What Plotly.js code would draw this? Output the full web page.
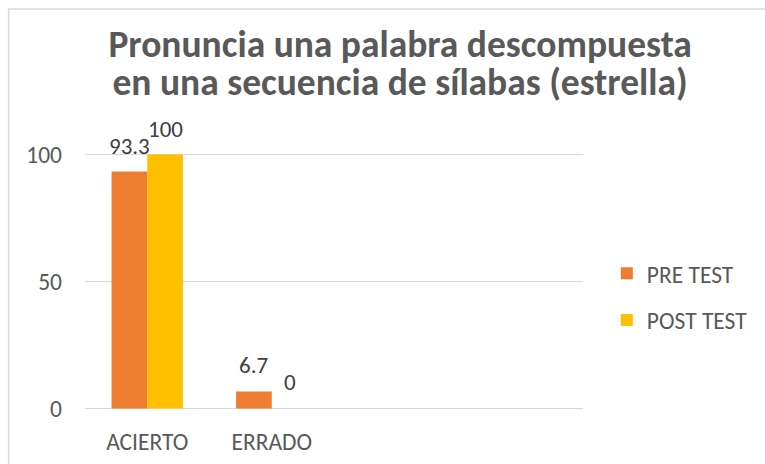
<!DOCTYPE html>
<html>
<head>
<meta charset="utf-8">
<script src="https://cdn.plot.ly/plotly-3.0.1.min.js"></script>
<style>html,body{margin:0;padding:0;background:#fff;}#chart{width:765px;height:464px;}</style>
</head>
<body>
<div id="chart"></div>
<script>
const categories = ["ACIERTO", "ERRADO", " ", "  "];
const preTest = [93.3, 6.7, null, null];
const postTest = [100, 0, null, null];
const seriesNames = ["PRE TEST", "POST TEST"];
const seriesColors = ["#ED7D31", "#FFC000"];
const yTicks = [0, 50, 100];

const FONT = "Carlito, 'Open Sans', sans-serif";
const W = 765, H = 464;
// y = 0 at 408px, y = 100 at 155px; pad range slightly so edge gridlines show
const pxPerUnit = (408 - 155) / 100, pad = 0.6;
const L = 85, R = 178, T = 155 - pad * pxPerUnit, B = (H - 408) - pad * pxPerUnit;
const pw = W - L - R, ph = H - T - B;
const px2paperY = py => (H - B - py) / ph;

const traces = [preTest, postTest].map((vals, i) => ({
  type: 'bar', x: categories, y: vals, name: seriesNames[i], legendgroup: 'g' + i,
  marker: {color: seriesColors[i]}, hoverinfo: 'none'
}));

const annotations = [];
[preTest, postTest].forEach((vals, i) => {
  vals.forEach((v, j) => {
    if (v === null) return;
    annotations.push({
      x: categories[j], y: v, xref: 'x', yref: 'y', text: String(v),
      showarrow: false, yanchor: 'bottom', yshift: 10, xshift: i === 0 ? -18 : 18,
      font: {family: FONT, size: 23, color: '#404040'}
    });
  });
});

const layout = {
  width: W, height: H,
  margin: {l: L, r: R, t: T, b: B},
  paper_bgcolor: '#fff', plot_bgcolor: '#fff',
  title: {text: '<span style="font-size:37.5px">Pronuncia una palabra descompuesta<br>en una secuencia de sílabas (estrella)</span>',
    font: {family: FONT, size: 29.5, color: '#595959', weight: 'bold'},
    x: 0.523, xanchor: 'center', yref: 'container', y: 1 - 57 / H, yanchor: 'middle'},
  barmode: 'group', bargap: 0.427, bargroupgap: 0,
  showlegend: true,
  legend: {x: (611 - L) / pw, xanchor: 'left', y: px2paperY(297), yanchor: 'middle',
    font: {family: FONT, size: 23.5, color: '#595959'}, traceorder: 'grouped', tracegroupgap: 13,
    bgcolor: 'rgba(0,0,0,0)'},
  xaxis: {type: 'category', showgrid: false, zeroline: false, showline: false, ticks: '',
    tickfont: {family: FONT, size: 23.5, color: '#595959'}, ticklabelstandoff: 15, fixedrange: true},
  yaxis: {range: [-pad, 100 + pad], tickvals: yTicks, ticktext: yTicks.map(String),
    showgrid: true, gridcolor: '#d9d9d9', gridwidth: 1.5, zeroline: false, showline: false, ticks: '',
    tickfont: {family: FONT, size: 23.5, color: '#595959'}, ticklabelstandoff: 22, fixedrange: true},
  annotations: annotations,
  shapes: [{type: 'rect', xref: 'paper', yref: 'paper', layer: 'below',
    x0: (8 - L) / pw, x1: (780 - L) / pw, y0: px2paperY(480), y1: px2paperY(10),
    line: {color: '#d9d9d9', width: 1.5}, fillcolor: 'rgba(0,0,0,0)'}]
};

Plotly.newPlot('chart', traces, layout, {displayModeBar: false, staticPlot: true});
</script>
</body>
</html>
